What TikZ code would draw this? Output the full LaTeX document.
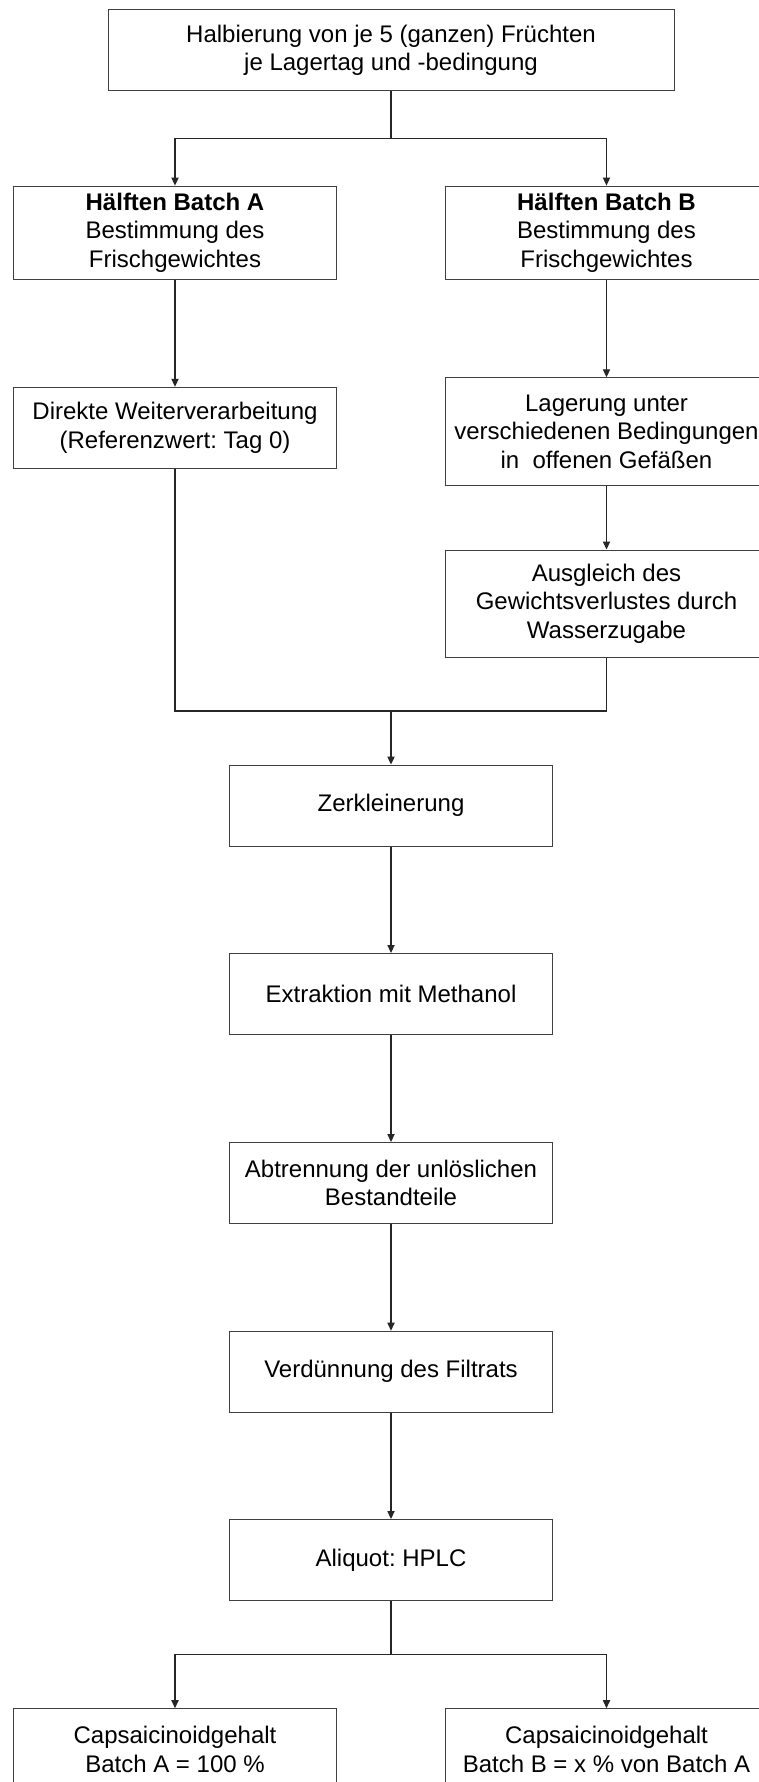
\documentclass[tikz,border=0pt]{standalone}
\usepackage{fontspec}
\setmainfont{Liberation Sans}
\frenchspacing
\usetikzlibrary{arrows.meta}

\begin{document}
\begin{tikzpicture}[x=0.5pt, y=-0.5pt,
    box/.style={draw=black!75, line width=0.5pt, inner sep=0pt, align=center,
      font=\fontsize{12}{14.2}\selectfont, minimum width=161.5pt, minimum height=40.5pt},
    flow/.style={draw=black!85, line width=0.55pt},
    >={Triangle[length=4pt, width=3.6pt]}]
  \useasboundingbox (0,0) rectangle (759,1782);
  \clip (0,0) rectangle (759,1782);
  \fill[white] (0,0) rectangle (759,1782);

  \node[box, minimum width=283pt] (half) at (391,50.3)
    {Halbierung von je 5 (ganzen) Früchten\\je Lagertag und -bedingung};

  \node[box, minimum height=46.6pt] (batchA) at (175,232.7)
    {\textbf{Hälften Batch A}\\Bestimmung des\\Frischgewichtes};
  \node[box, minimum height=46.6pt] (batchB) at (606.5,232.7)
    {\textbf{Hälften Batch B}\\Bestimmung des\\Frischgewichtes};

  \node[box] (direkt) at (175,427.8)
    {Direkte Weiterverarbeitung\\(Referenzwert: Tag 0)};
  \node[box, minimum height=53.7pt] (lager) at (606.5,431.5)
    {Lagerung unter\\verschiedenen Bedingungen\\in~ offenen Gefäßen};
  \node[box, minimum height=53.7pt] (ausgl) at (606.5,603.7)
    {Ausgleich des\\Gewichtsverlustes durch\\Wasserzugabe};

  \node[box] (zerk) at (391,805.5) {Zerkleinerung};
  \node[box] (extr) at (391,994) {Extraktion mit Methanol};
  \node[box] (abtr) at (391,1183) {Abtrennung der unlöslichen\\Bestandteile};
  \node[box] (verd) at (391,1371.7) {Verdünnung des Filtrats};
  \node[box] (aliq) at (391,1560) {Aliquot: HPLC};

  \node[box] (resA) at (175,1749.2)
    {Capsaicinoidgehalt\\Batch A = 100 \%};
  \node[box] (resB) at (606.5,1749.2)
    {Capsaicinoidgehalt\\Batch B = x \% von Batch A};

  \coordinate (split) at (391,138.3);
  \coordinate (join) at (391,711);
  \coordinate (fork) at (391,1654.3);

  \draw[flow, line width=0.8pt] (half) -- (split);
  \draw[flow, ->] (split) -| (batchA);
  \draw[flow, ->] (split) -| (batchB);

  \draw[flow, ->] (batchA) -- (direkt);
  \draw[flow, ->] (batchB) -- (lager);
  \draw[flow, ->] (lager) -- (ausgl);

  \draw[flow] (direkt) |- (join);
  \draw[flow] (ausgl) |- (join);
  \draw[flow, ->, line width=0.8pt] (join) -- (zerk);

  \draw[flow, ->] (zerk) -- (extr);
  \draw[flow, ->] (extr) -- (abtr);
  \draw[flow, ->] (abtr) -- (verd);
  \draw[flow, ->] (verd) -- (aliq);

  \draw[flow, line width=0.8pt] (aliq) -- (fork);
  \draw[flow, ->] (fork) -| (resA);
  \draw[flow, ->] (fork) -| (resB);
\end{tikzpicture}
\end{document}
